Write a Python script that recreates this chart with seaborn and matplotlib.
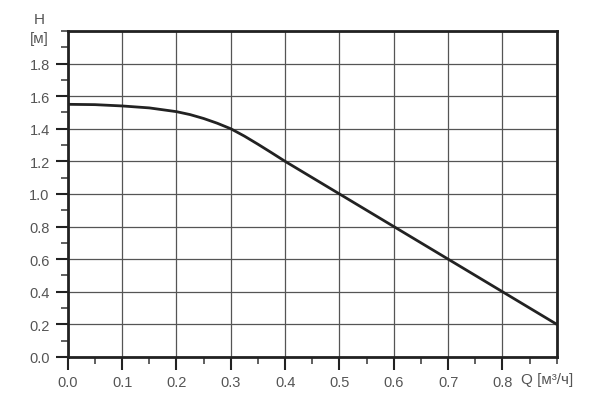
import matplotlib
matplotlib.use('Agg')
import matplotlib.pyplot as plt
from matplotlib.ticker import MultipleLocator
import seaborn as sns
import pandas as pd

# --- Dados ---
q = [0.0, 0.05, 0.1, 0.15, 0.2, 0.225, 0.25, 0.275, 0.3, 0.325, 0.35, 0.375, 0.4, 0.5, 0.6, 0.7, 0.8, 0.9]
h = [1.55, 1.548, 1.54, 1.528, 1.505, 1.487, 1.463, 1.434, 1.4, 1.355, 1.305, 1.253, 1.2, 1.0, 0.8, 0.6, 0.4, 0.2]
x_ticks = [0.0, 0.1, 0.2, 0.3, 0.4, 0.5, 0.6, 0.7, 0.8]
y_ticks = [0.0, 0.2, 0.4, 0.6, 0.8, 1.0, 1.2, 1.4, 1.6, 1.8]

df = pd.DataFrame({'Q': q, 'H': h})

sns.set_style('white')
plt.rcParams['font.family'] = ['Liberation Sans', 'DejaVu Sans']

fig = plt.figure(figsize=(6, 4.1), dpi=100)
ax = fig.add_axes([0.113, 0.127, 0.815, 0.795])

sns.lineplot(data=df, x='Q', y='H', ax=ax, color='#222222', linewidth=2)

ax.set_xlim(0, 0.9)
ax.set_ylim(0, 2.0)
ax.set_xticks(x_ticks)
ax.set_xticklabels([f'{v:.1f}' for v in x_ticks])
ax.set_yticks(y_ticks)
ax.set_yticklabels([f'{v:.1f}' for v in y_ticks])
ax.xaxis.set_minor_locator(MultipleLocator(0.05))
ax.yaxis.set_minor_locator(MultipleLocator(0.1))

# grade nas posições principais (inclui 0.9 e 2.0 pela moldura)
for v in x_ticks + [0.9]:
    ax.axvline(v, color='#555555', linewidth=0.9, zorder=0)
for v in y_ticks + [2.0]:
    ax.axhline(v, color='#555555', linewidth=0.9, zorder=0)

ax.tick_params(which='major', direction='out', length=9, width=1.5, color='#222222',
               labelsize=10.5, labelcolor='#555555', left=True, bottom=True, pad=4)
ax.tick_params(which='minor', direction='out', length=5, width=1.2, color='#444444',
               left=True, bottom=True)

for s in ax.spines.values():
    s.set_visible(True)
    s.set_color('#222222')
    s.set_linewidth(2)

ax.set_xlabel('')
ax.set_ylabel('')
fig.text(0.912, 0.072, 'Q [м³/ч]', fontsize=11, color='#555555', ha='center', va='center')
fig.text(0.065, 0.95, 'H', fontsize=11, color='#555555', ha='center', va='center')
fig.text(0.065, 0.905, '[м]', fontsize=11, color='#555555', ha='center', va='center')

fig.savefig('out.png', dpi=100)
